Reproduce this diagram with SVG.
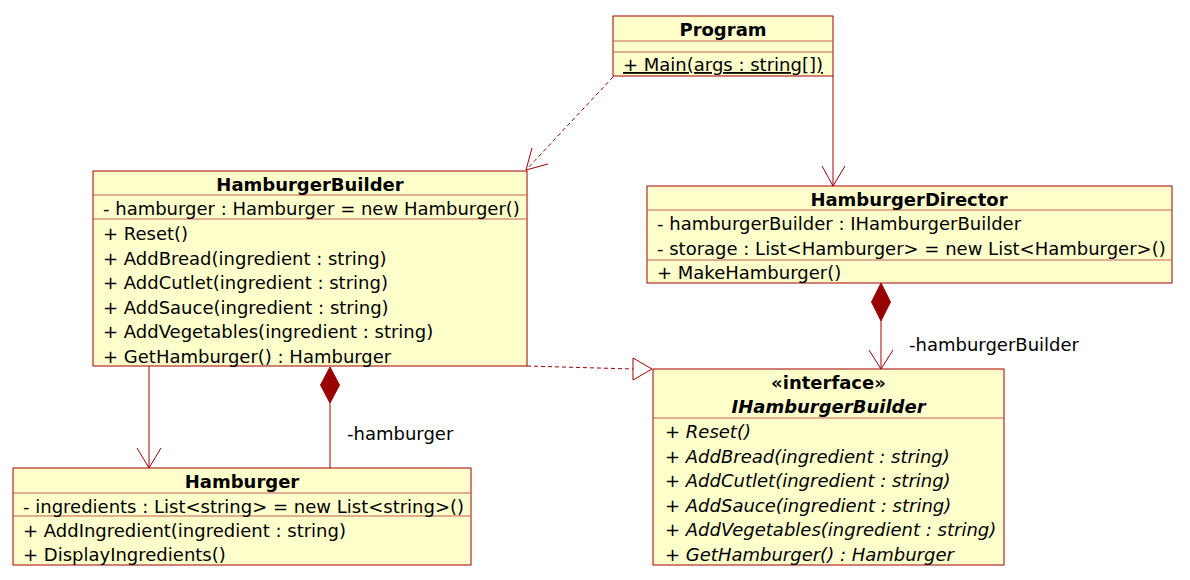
<svg xmlns="http://www.w3.org/2000/svg" width="1190" height="580" viewBox="0 0 1190 580">
<style>
  .box { fill: #ffffcc; stroke: #a00000; stroke-width: 1; }
  .sep { stroke: #c06050; stroke-width: 1; fill: none; }
  text { font-family: "DejaVu Sans", "Liberation Sans", sans-serif; font-size: 18px; fill: #000; }
  .title { font-weight: bold; text-anchor: middle; }
  .it { font-style: italic; }
  .line { stroke: #a00000; stroke-width: 1; fill: none; }
  .dash { stroke: #a00000; stroke-width: 1; fill: none; stroke-dasharray: 4 3; }
  .diamond { fill: #990000; stroke: #990000; stroke-width: 1; }
  .tri { fill: #ffffff; stroke: #a00000; stroke-width: 1; }
</style>
<rect x="0" y="0" width="1190" height="580" fill="#ffffff"/>

<g id="connectors">
  <!-- Program -> HamburgerBuilder (dependency) -->
  <line class="dash" x1="613" y1="77" x2="526" y2="170"/>
  <polyline class="line" points="532,148 526,170 548,164"/>
  <!-- Program -> HamburgerDirector -->
  <line class="line" x1="833" y1="76" x2="833" y2="186"/>
  <polyline class="line" points="822,166 833,186 845,166"/>
  <!-- HamburgerBuilder -> Hamburger -->
  <line class="line" x1="149" y1="366" x2="149" y2="468"/>
  <polyline class="line" points="137,448 149,468 161,448"/>
  <!-- HamburgerBuilder composition Hamburger -->
  <polygon class="diamond" points="330,367 339.5,385 330,403 320.5,385"/>
  <line class="line" x1="330" y1="403" x2="330" y2="468"/>
  <text x="347" y="440">-hamburger</text>
  <!-- HamburgerDirector composition IHamburgerBuilder -->
  <polygon class="diamond" points="881,283 890.5,302 881,321 871.5,302"/>
  <line class="line" x1="881" y1="321" x2="881" y2="369"/>
  <polyline class="line" points="869,350 881,369 893,350"/>
  <text x="909" y="351">-hamburgerBuilder</text>
  <!-- HamburgerBuilder realizes IHamburgerBuilder -->
  <line class="dash" x1="527" y1="366" x2="633" y2="369"/>
  <polygon class="tri" points="633,358 652,369 633,380"/>
</g>

<g id="Program">
  <rect class="box" x="613" y="16" width="220" height="60"/>
  <line class="sep" x1="613" y1="41" x2="833" y2="41"/>
  <line class="sep" x1="613" y1="52" x2="833" y2="52"/>
  <text class="title" x="723" y="36">Program</text>
  <text x="623" y="71" text-decoration="underline">+ Main(args : string[])</text>
</g>

<g id="HamburgerBuilder">
  <rect class="box" x="93" y="171" width="434" height="195"/>
  <line class="sep" x1="93" y1="195" x2="527" y2="195"/>
  <line class="sep" x1="93" y1="219" x2="527" y2="219"/>
  <text class="title" x="310" y="191">HamburgerBuilder</text>
  <text x="103" y="215">- hamburger : Hamburger = new Hamburger()</text>
  <text x="103" y="240">+ Reset()</text>
  <text x="103" y="264.5">+ AddBread(ingredient : string)</text>
  <text x="103" y="289">+ AddCutlet(ingredient : string)</text>
  <text x="103" y="313.5">+ AddSauce(ingredient : string)</text>
  <text x="103" y="338">+ AddVegetables(ingredient : string)</text>
  <text x="103" y="362.5">+ GetHamburger() : Hamburger</text>
</g>

<g id="Hamburger">
  <rect class="box" x="13" y="468" width="458" height="97"/>
  <line class="sep" x1="13" y1="493" x2="471" y2="493"/>
  <line class="sep" x1="13" y1="516" x2="471" y2="516"/>
  <text class="title" x="242" y="488">Hamburger</text>
  <text x="23" y="512.5">- ingredients : List&lt;string&gt; = new List&lt;string&gt;()</text>
  <text x="23" y="536.5">+ AddIngredient(ingredient : string)</text>
  <text x="23" y="561">+ DisplayIngredients()</text>
</g>

<g id="HamburgerDirector">
  <rect class="box" x="647" y="186" width="525" height="97"/>
  <line class="sep" x1="647" y1="210" x2="1172" y2="210"/>
  <line class="sep" x1="647" y1="260" x2="1172" y2="260"/>
  <text class="title" x="909" y="206">HamburgerDirector</text>
  <text x="657" y="230">- hamburgerBuilder : IHamburgerBuilder</text>
  <text x="657" y="254.5">- storage : List&lt;Hamburger&gt; = new List&lt;Hamburger&gt;()</text>
  <text x="657" y="278.5">+ MakeHamburger()</text>
</g>

<g id="IHamburgerBuilder">
  <rect class="box" x="653" y="369" width="351" height="196"/>
  <line class="sep" x1="653" y1="418" x2="1004" y2="418"/>
  <text class="title" x="828.5" y="389">«interface»</text>
  <text class="title it" x="828.5" y="413">IHamburgerBuilder</text>
  <text class="it" x="665" y="438">+ Reset()</text>
  <text class="it" x="665" y="462.5">+ AddBread(ingredient : string)</text>
  <text class="it" x="665" y="487">+ AddCutlet(ingredient : string)</text>
  <text class="it" x="665" y="511.5">+ AddSauce(ingredient : string)</text>
  <text class="it" x="665" y="536">+ AddVegetables(ingredient : string)</text>
  <text class="it" x="665" y="560.5">+ GetHamburger() : Hamburger</text>
</g>
</svg>
